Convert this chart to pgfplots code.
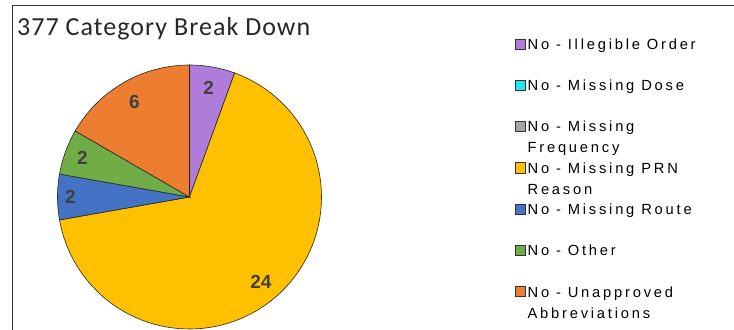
\documentclass[border=0pt]{standalone}
\usepackage{fontspec}
\usepackage{pgfplots}
\usepackage{pgfplotstable}
\pgfplotsset{compat=1.18}
\setmainfont{Liberation Sans}
\newfontfamily\titlefont[LetterSpace=4]{Carlito}
\newfontfamily\legfont[LetterSpace=19]{Liberation Sans}
\definecolor{cIll}{HTML}{B07CD9}
\definecolor{cDose}{HTML}{22E6F0}
\definecolor{cFreq}{HTML}{A5A5A5}
\definecolor{cPRN}{HTML}{FFC000}
\definecolor{cRoute}{HTML}{4472C4}
\definecolor{cOther}{HTML}{70AD47}
\definecolor{cUnap}{HTML}{ED7D31}
\definecolor{lbl}{HTML}{404040}

\pgfplotstableread{
idx value
0 2
1 0
2 0
3 24
4 2
5 2
6 6
}\piedata

\newcommand\lblfont{\fontsize{19bp}{22bp}\selectfont\bfseries}
\newcommand\LE[1]{\smash{\parbox[t]{200bp}{\baselineskip=21bp #1}}}

\gdef\curang{90}
\newcommand\slice[4]{%
  \pgfplotstablegetelem{#1}{value}\of\piedata
  \let\v\pgfplotsretval
  \pgfmathsetmacro\angA{\curang}%
  \pgfmathsetmacro\angB{\curang-360*\v/\tot}%
  \pgfmathsetmacro\angM{(\angA+\angB)/2}%
  \ifdim\v pt>0pt
    \edef\temp{\noexpand\addplot[fill=#2, draw=black!85, line width=0.6bp, domain=\angB:\angA, samples=90] ({189.5+132*cos(x)},{133+132*sin(x)}) -- (axis cs:189.5,133) -- cycle;}%
    \temp
    \addlegendentry{\LE{#3}}
    \pgfmathsetmacro\lx{189.5+#4*cos(\angM)}%
    \pgfmathsetmacro\ly{133+#4*sin(\angM)}%
    \edef\temp{\noexpand\node[font=\noexpand\lblfont, text=lbl, inner sep=0pt] at (axis cs:\lx,\ly) {\v};}%
    \temp
  \else
    \addlegendimage{fill=#2}
    \addlegendentry{\LE{#3}}
  \fi
  \xdef\curang{\angB}%
}

\begin{document}
\begin{tikzpicture}
\gdef\tot{0}
\pgfplotstableforeachcolumnelement{value}\of\piedata\as\vv{\pgfmathsetmacro\tt{\tot+\vv}\xdef\tot{\tt}}
\useasboundingbox (0,0) rectangle (734bp,330bp);
\begin{axis}[
  at={(0,0)}, anchor=south west,
  width=734bp, height=330bp, scale only axis,
  xmin=0, xmax=734, ymin=0, ymax=330,
  axis lines=none, clip=true,
  legend image code/.code={\draw[#1, draw=black!80, line width=0.6bp] (0bp,0.3bp) rectangle (10bp,10.5bp);},
  legend cell align=left,
  legend style={at={(axis cs:515,291.5)}, anchor=north west, draw=none, fill=none,
    inner sep=0pt, outer sep=0pt, row sep=29bp, column sep=2bp,
    cells={anchor=base west},
    nodes={inner sep=0pt, font=\legfont\fontsize{14.7bp}{21bp}\selectfont}},
]
\slice{0}{cIll}{No - Illegible Order}{111}
\slice{1}{cDose}{No - Missing Dose}{111}
\slice{2}{cFreq}{No - Missing\\Frequency}{111}
\slice{3}{cPRN}{No - Missing PRN\\Reason}{111}
\slice{4}{cRoute}{No - Missing Route}{119}
\slice{5}{cOther}{No - Other}{114}
\slice{6}{cUnap}{No - Unapproved\\Abbreviations}{110}
\draw[line width=1.3bp, black!80] (axis cs:12.5,0) -- (axis cs:12.5,324.5) -- (axis cs:734,324.5);
\node[anchor=base west, inner sep=0pt, text=black!85, font=\titlefont\fontsize{26bp}{30bp}\selectfont] at (axis cs:17,295) {377 Category Break Down};
\end{axis}
\end{tikzpicture}
\end{document}
